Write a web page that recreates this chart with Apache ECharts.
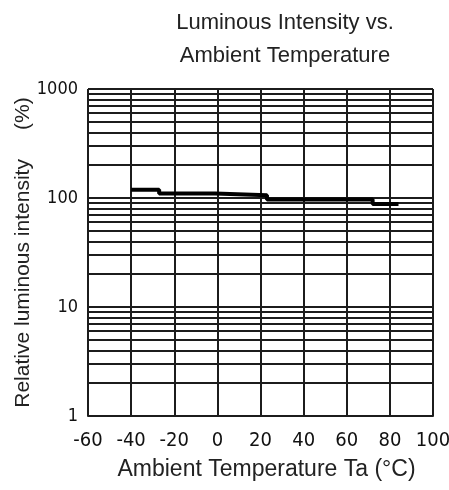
<!DOCTYPE html>
<html>
<head>
<meta charset="utf-8">
<script src="https://cdn.jsdelivr.net/npm/echarts@6/dist/echarts.min.js"></script>
<style>
html,body{margin:0;padding:0;background:#fff;}
#c{width:449px;height:490px;}
</style>
</head>
<body>
<div id="c"></div>
<script>
// Data
const temperatures = [-40, -27, -1, 23, 72, 84];        // Ta (°C), step start points
const relIntensity = [119, 110, 106, 97, 88, 88];        // relative luminous intensity (%)
const xTickValues = [-60, -40, -20, 0, 20, 40, 60, 80, 100];
const yDecadeTicks = [1, 10, 100, 1000];
const yMinorGrid = [2,3,4,5,6,7,8,9, 20,30,40,50,60,70,80,90, 200,300,400,500,600,700,800,900];

const titleLines = ['Luminous Intensity vs.', 'Ambient Temperature'];
const xName = 'Ambient Temperature Ta (°C)';
const yName = 'Relative luminous intensity     (%)';

const tickFont = "'DejaVu Sans Condensed','DejaVu Sans','Liberation Sans',sans-serif";
const textFont = "'Liberation Sans',Arial,sans-serif";
const gridColor = '#1c1c1c';

const chart = echarts.init(document.getElementById('c'), null, {renderer: 'canvas'});
chart.setOption({
  animation: false,
  backgroundColor: '#fff',
  graphic: [{
    type: 'text',
    x: 285, y: 6,
    style: {
      text: titleLines.join('\n'),
      font: '22px ' + textFont,
      fill: '#222',
      textAlign: 'center',
      lineHeight: 33
    }
  }],
  grid: {left: 88, right: 16, top: 89, bottom: 74, containLabel: false, outerBoundsMode: 'none'},
  xAxis: {
    type: 'value',
    min: xTickValues[0],
    max: xTickValues[xTickValues.length - 1],
    interval: 20,
    name: xName,
    nameLocation: 'middle',
    nameGap: 42,
    nameMoveOverlap: false,
    nameTextStyle: {fontFamily: textFont, fontSize: 23, color: '#222', padding: [0, 0, 0, 12]},
    axisLine: {show: true, lineStyle: {color: gridColor, width: 2}},
    axisTick: {show: false},
    axisLabel: {margin: 15, fontFamily: tickFont, fontSize: 20, color: '#111'},
    splitLine: {show: true, lineStyle: {color: gridColor, width: 2}}
  },
  yAxis: {
    type: 'log',
    logBase: 10,
    min: yDecadeTicks[0],
    max: yDecadeTicks[yDecadeTicks.length - 1],
    name: yName,
    nameLocation: 'middle',
    nameRotate: 90,
    nameGap: 54,
    nameMoveOverlap: false,
    nameTextStyle: {fontFamily: textFont, fontSize: 21, color: '#222'},
    axisLine: {show: true, lineStyle: {color: gridColor, width: 2}},
    axisTick: {show: false},
    axisLabel: {margin: 10, fontFamily: tickFont, fontSize: 18, color: '#111',
      formatter: v => String(Math.round(v))},
    splitLine: {show: true, lineStyle: {color: gridColor, width: 2}}
  },
  series: [{
    type: 'line',
    step: 'end',
    data: temperatures.map((t, i) => [t, relIntensity[i]]),
    showSymbol: false,
    symbol: 'none',
    lineStyle: {color: '#000', width: 4},
    z: 5,
    markLine: {
      silent: true,
      symbol: 'none',
      label: {show: false},
      lineStyle: {color: gridColor, width: 2, type: 'solid'},
      emphasis: {disabled: true},
      data: yMinorGrid.map(v => ({yAxis: v}))
    }
  }]
});
</script>
</body>
</html>
